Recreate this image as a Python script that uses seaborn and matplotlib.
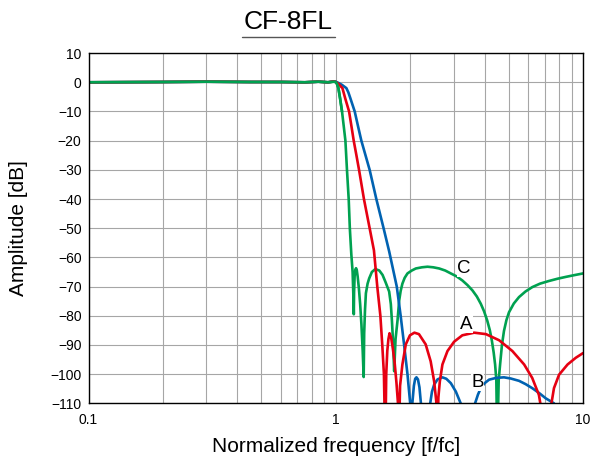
import numpy as np
import matplotlib
matplotlib.use("Agg")
import matplotlib.pyplot as plt
from matplotlib.lines import Line2D
from matplotlib.ticker import LogLocator, FixedLocator, FixedFormatter, NullFormatter
import seaborn as sns

# curve C (green)
freq_c = [0.1, 0.2, 0.3, 0.45, 0.6, 0.75, 0.85, 0.93, 0.98, 1.0, 1.012, 1.025, 1.041,
          1.06, 1.077, 1.094, 1.110, 1.128, 1.14, 1.156, 1.170, 1.180, 1.183, 1.186,
          1.192, 1.200, 1.208, 1.216, 1.226, 1.240, 1.255, 1.270, 1.285, 1.297, 1.303,
          1.313, 1.324, 1.345, 1.365, 1.40, 1.446, 1.50, 1.546, 1.59, 1.644, 1.67,
          1.687, 1.705, 1.723, 1.745, 1.777, 1.805, 1.83, 1.86, 1.90, 1.95, 2.03,
          2.108, 2.23, 2.35, 2.48, 2.62, 2.77, 2.92, 3.08, 3.25, 3.41, 3.57,
          3.72, 3.86, 3.98, 4.10, 4.20, 4.28, 4.35, 4.41, 4.46, 4.50, 4.56,
          4.62, 4.70, 4.79, 4.90, 5.02, 5.25, 5.51, 5.85, 6.23, 6.70, 7.27,
          7.90, 8.50, 9.20, 10.0]
db_c = [0.0, 0.1, 0.2, 0.1, 0.1, 0.0, 0.2, 0.0, 0.2, 0.1, -0.6, -2.0, -5.5,
        -10, -15, -20, -30, -40, -50, -59, -65, -75, -79.5, -72,
        -66.5, -64.2, -63.7, -64.3, -66.5, -70.5, -76, -83, -92, -101, -86,
        -78, -72.3, -69, -67.2, -65, -64, -64.5, -66, -68.5, -71.7, -76,
        -81.7, -89, -99, -88, -81.7, -74.8, -71.5, -69, -67, -65.5, -64.5,
        -63.8, -63.4, -63.2, -63.4, -63.8, -64.5, -65.5, -66.5, -67.9, -69.5, -71.3,
        -73.4, -75.9, -78.5, -81.7, -85, -88.6, -92.5, -96.7, -102, -125, -102,
        -96.7, -90, -85.2, -81.5, -78.8, -75.8, -73.6, -71.7, -70.2, -69, -68.1,
        -67.3, -66.7, -66.1, -65.5]

# curve A (red)
freq_a = [0.1, 0.2, 0.3, 0.45, 0.6, 0.75, 0.85, 0.93, 0.98, 1.0, 1.02, 1.04, 1.064,
          1.092, 1.132, 1.157, 1.182, 1.212, 1.242, 1.30, 1.371, 1.427, 1.472, 1.515,
          1.542, 1.566, 1.586, 1.60, 1.616, 1.633, 1.65, 1.675, 1.70, 1.73, 1.76,
          1.785, 1.797, 1.82, 1.86, 1.92, 1.995, 2.08, 2.17, 2.31, 2.42, 2.50,
          2.55, 2.575, 2.60, 2.636, 2.70, 2.83, 3.01, 3.25, 3.63, 4.05, 4.58,
          5.18, 5.78, 6.23, 6.63, 6.75, 7.10, 7.42, 7.63, 8.00, 8.66, 9.35, 10.0]
db_a = [0.0, 0.1, 0.2, 0.1, 0.1, 0.0, 0.2, 0.0, 0.3, 0.1, -0.4, -1.1, -2.0,
        -5.5, -10, -15, -20, -25, -30, -40, -50, -57.6, -70, -80,
        -90, -100, -125, -100, -92, -88, -86, -87.5, -91, -96, -103,
        -110, -125, -104, -96.7, -89.8, -86.7, -85.8, -86.3, -89.8, -95.6, -102.5,
        -109.4, -125, -108, -102.5, -96.7, -92.1, -88.9, -86.7, -85.8, -86.3, -88.4,
        -92.1, -96.7, -101.3, -107.1, -111, -125, -111, -104.8, -100.2, -96.7, -94.4, -92.8]

# curve B (blue)
freq_b = [0.1, 0.2, 0.3, 0.45, 0.6, 0.75, 0.85, 0.93, 0.98, 1.0, 1.03, 1.06, 1.08,
          1.104, 1.125, 1.146, 1.193, 1.23, 1.269, 1.371, 1.459, 1.561, 1.645, 1.765,
          1.83, 1.89, 1.95, 2.00, 2.02, 2.04, 2.07, 2.095, 2.12, 2.15, 2.18,
          2.21, 2.30, 2.41, 2.45, 2.50, 2.58, 2.70, 2.80, 2.92, 3.06, 3.20,
          3.42, 3.66, 3.76, 3.86, 4.00, 4.17, 4.45, 4.79, 5.10, 5.51, 5.85,
          6.23, 6.65, 7.07, 7.63, 8.30, 10.0]
db_b = [0.0, 0.1, 0.2, 0.1, 0.1, 0.0, 0.2, 0.0, 0.3, 0.2, -0.3, -0.9, -1.4,
        -2.0, -3.5, -5.5, -10, -15, -20, -30, -40, -50, -58, -70,
        -80, -90, -100, -110, -125, -110, -104, -101.6, -101.1, -101.8, -104.5,
        -110, -125, -110, -106, -103.6, -101.8, -101.1, -101.6, -103.1, -106, -110,
        -125, -110, -107, -104.8, -103.1, -101.9, -101.3, -101.1, -101.5, -102.3, -103.4,
        -104.8, -106.5, -108.3, -110, -125, -116]

# text labels
tick_labels_x = ["0.1", "1", "10"]
curve_names = ["C", "A", "B"]
label_freq = [3.30, 3.38, 3.74]
label_db = [-63.7, -82.9, -102.9]

GREEN = "#00a150"
RED = "#e60012"
BLUE = "#0062b1"

sns.set_style("white")
plt.rcParams["font.family"] = ["Liberation Sans", "DejaVu Sans"]
plt.rcParams["text.color"] = "black"
plt.rcParams["axes.labelcolor"] = "black"
plt.rcParams["xtick.color"] = "black"
plt.rcParams["ytick.color"] = "black"

fig = plt.figure(figsize=(6.0, 4.57), dpi=100)
ax = fig.add_axes([0.1475, 0.1175, 0.8242, 0.7663])

ax.set_xscale("log")
for fx, fy, col in [(freq_c, db_c, GREEN), (freq_b, db_b, BLUE), (freq_a, db_a, RED)]:
    sns.lineplot(x=fx, y=fy, color=col, linewidth=1.9, estimator=None, sort=False, ax=ax)
# green on top in the passband
sns.lineplot(x=freq_c[:14], y=db_c[:14], color=GREEN, linewidth=1.9, estimator=None,
             sort=False, ax=ax)

ax.set_xlim(0.1, 10)
ax.set_ylim(-110, 10)
ax.xaxis.set_major_locator(FixedLocator([0.1, 1, 10]))
ax.xaxis.set_major_formatter(FixedFormatter(tick_labels_x))
ax.xaxis.set_minor_locator(LogLocator(base=10, subs=np.arange(2, 10)))
ax.xaxis.set_minor_formatter(NullFormatter())
yt = list(range(-110, 11, 10))
ax.set_yticks(yt)
ax.set_yticklabels([str(v).replace("-", "\u2212") for v in yt])
ax.grid(True, which="both", color="#a6a6a6", linewidth=0.8)
ax.set_axisbelow(True)
ax.tick_params(axis="y", which="both", length=0, labelsize=10, pad=5)
ax.tick_params(axis="x", which="both", length=0, labelsize=10, pad=7)
for s in ax.spines.values():
    s.set_color("black")
    s.set_linewidth(1.0)

ax.set_xlabel("Normalized frequency [f/fc]", fontsize=15, labelpad=7)
ax.set_ylabel("Amplitude [dB]", fontsize=15, labelpad=16)

for name, lf, ld in zip(curve_names, label_freq, label_db):
    ax.text(lf, ld, name, fontsize=13.5, color="black", ha="center", va="center",
            bbox=dict(facecolor="white", edgecolor="none", pad=0.3))

fig.text(0.48, 0.952, "CF-8FL", fontsize=19, ha="center", va="center")
fig.add_artist(Line2D([0.403, 0.558], [0.918, 0.918], color="#555555", linewidth=1.0,
                      transform=fig.transFigure))

fig.savefig("out.png", dpi=100)
